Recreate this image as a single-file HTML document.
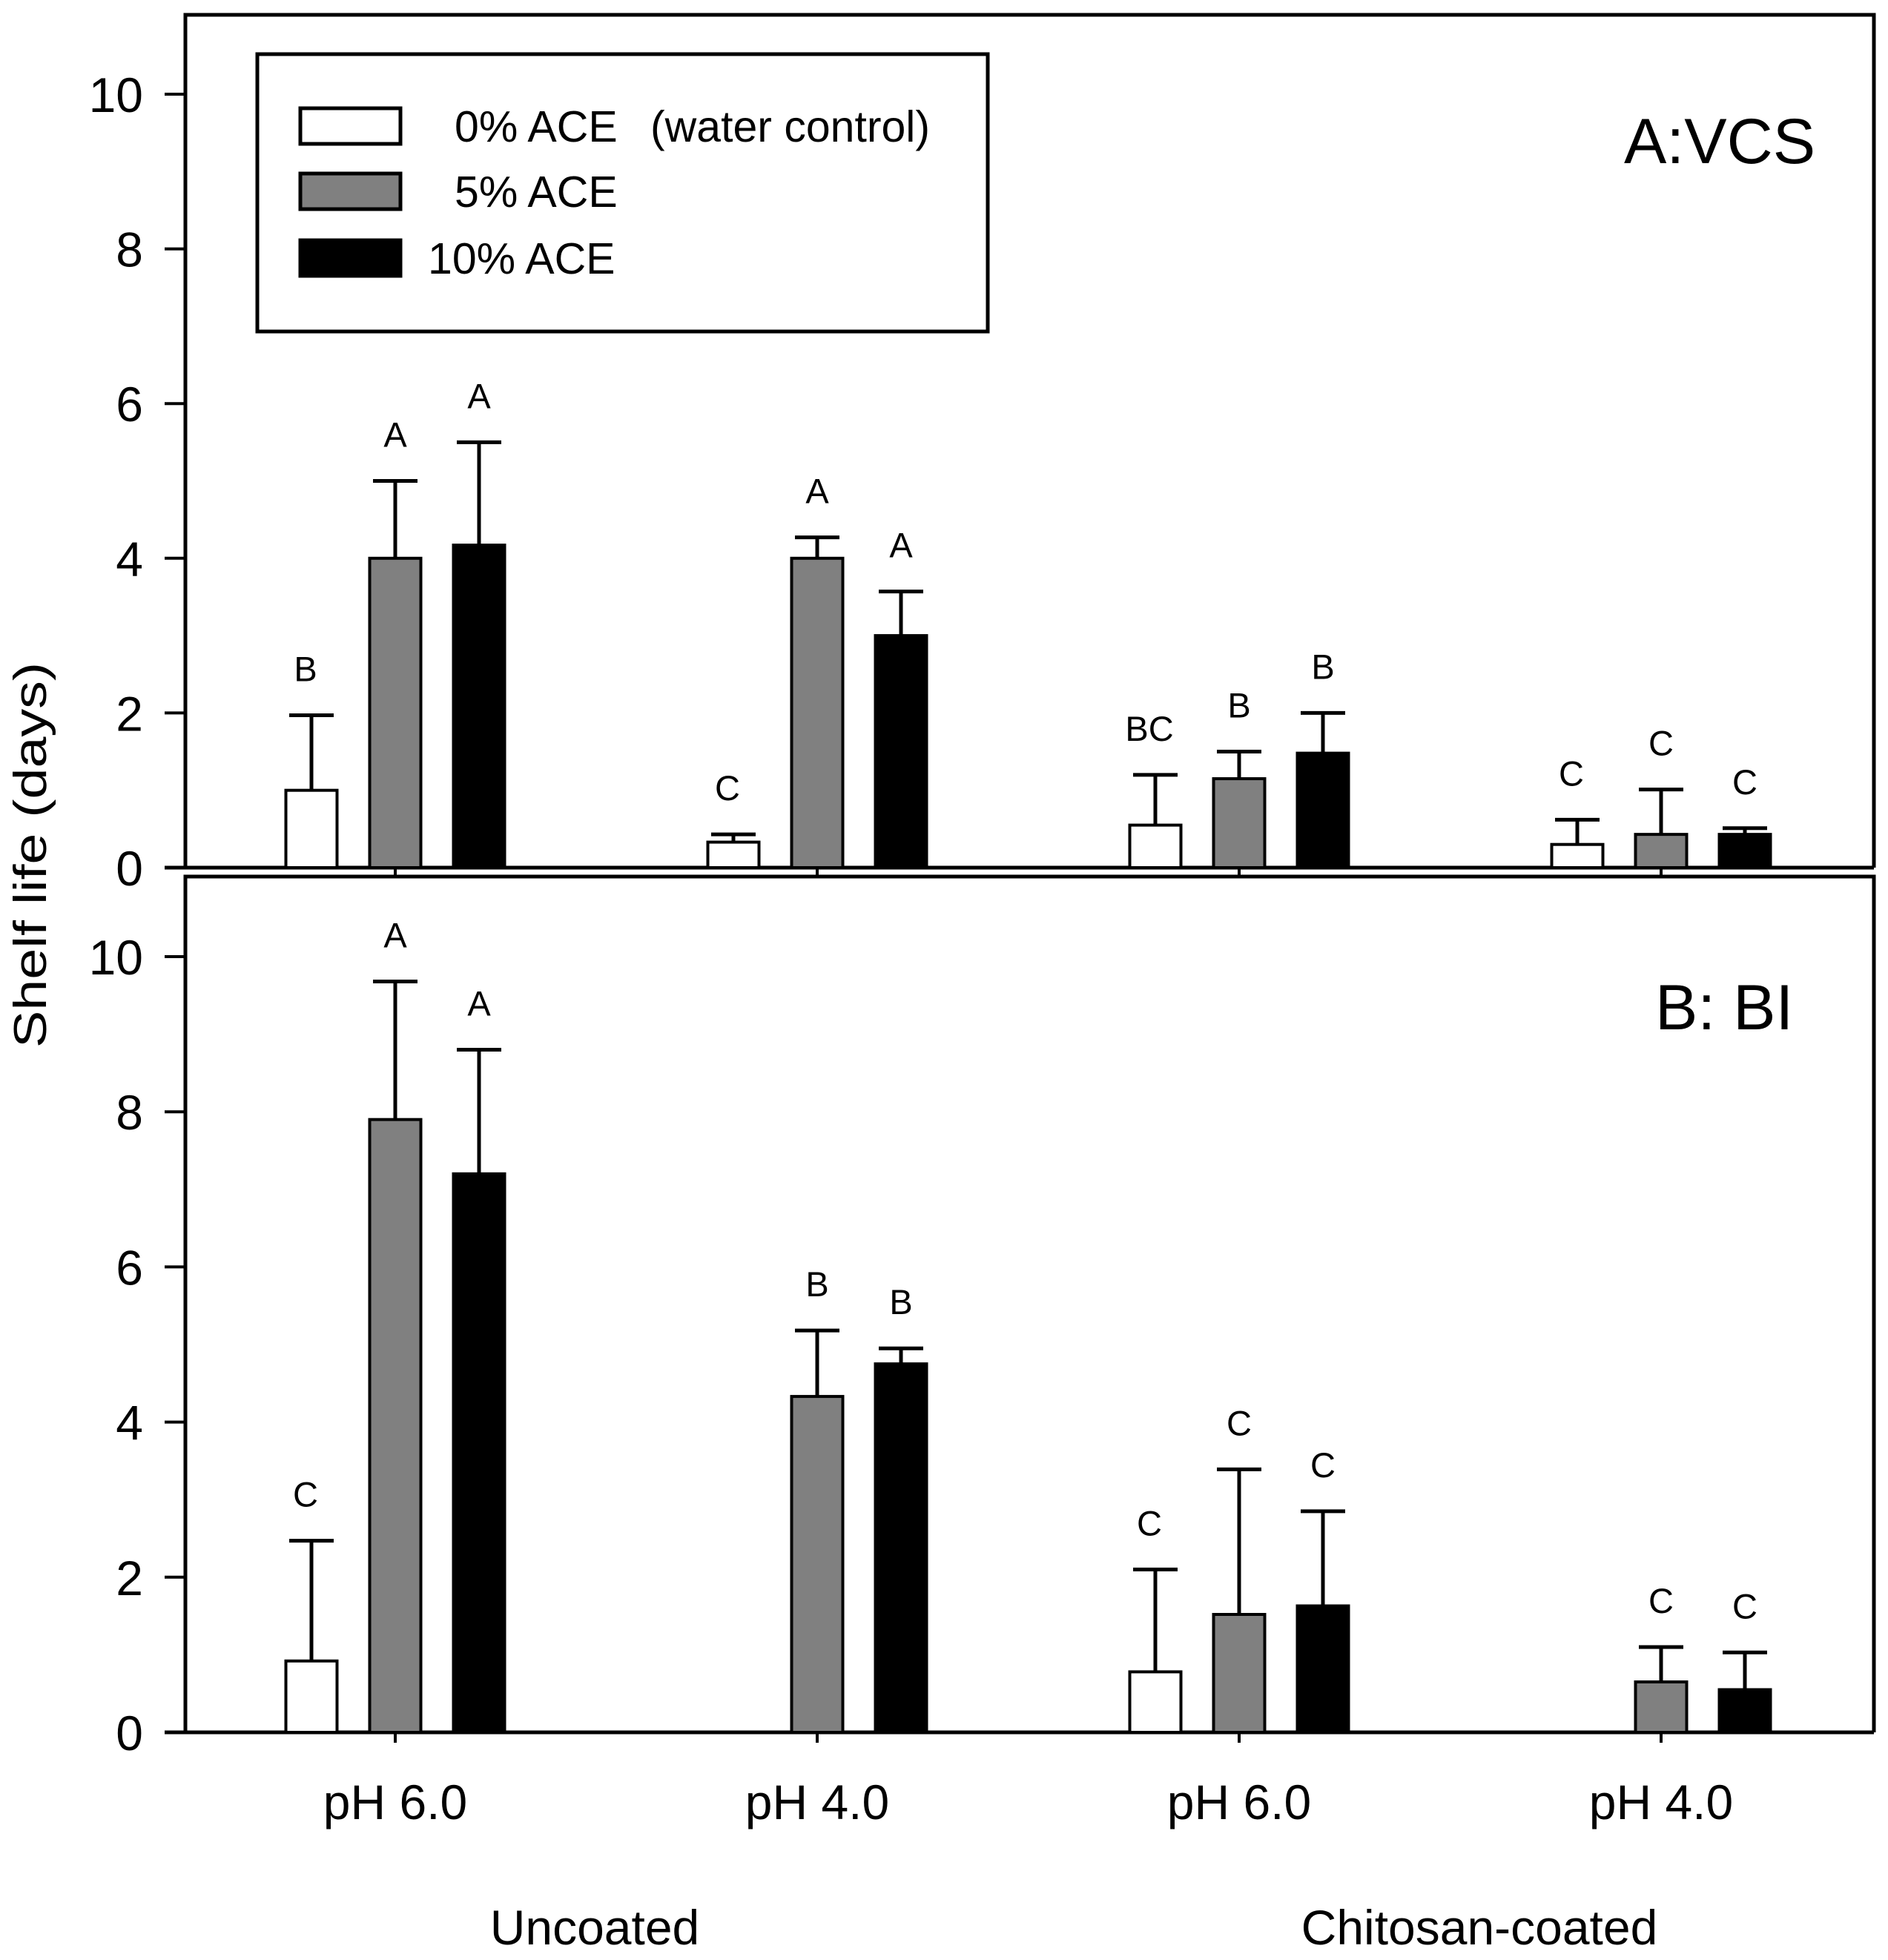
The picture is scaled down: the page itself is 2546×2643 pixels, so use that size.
<!DOCTYPE html>
<html><head><meta charset="utf-8">
<style>html,body{margin:0;padding:0;background:#fff}svg{display:block}text{font-family:"Liberation Sans",sans-serif;fill:#000}</style>
</head><body>
<svg id="chart" width="2546" height="2643" viewBox="0 0 2546 2643" xmlns="http://www.w3.org/2000/svg">
<g id="root"></g>
</svg>
<script>
const groups = ["pH 6.0","pH 4.0","pH 6.0","pH 4.0"];
const seriesNames = ["0% ACE","5% ACE","10% ACE"];
const fills = ["#ffffff","#808080","#000000"];
const yTicks = [0,2,4,6,8,10];
const vcsMeans = [[1.0,4.0,4.17],[0.33,4.0,3.0],[0.55,1.15,1.48],[0.3,0.43,0.43]];
const vcsErr = [[0.97,1.0,1.33],[0.1,0.27,0.57],[0.65,0.35,0.52],[0.32,0.58,0.08]];
const vcsLetters = [["B","A","A"],["C","A","A"],["BC","B","B"],["C","C","C"]];
const biMeans = [[0.92,7.9,7.2],[0,4.33,4.75],[0.78,1.52,1.63],[0,0.65,0.55]];
const biErr = [[1.55,1.78,1.6],[0,0.85,0.2],[1.32,1.87,1.22],[0,0.45,0.48]];
const biLetters = [["C","A","A"],["","B","B"],["C","C","C"],["","C","C"]];

const NS="http://www.w3.org/2000/svg";
const root=document.getElementById('root');
function el(tag,attrs,parent){const e=document.createElementNS(NS,tag);for(const k in attrs)e.setAttribute(k,attrs[k]);(parent||root).appendChild(e);return e;}
const xLeft=250,xRight=2527;
const groupX = i => 533 + i*569;
const barOff = j => (j-1)*113;
const barW=69;

function panel(name,top,y0,y10,means,errs,letters,label,lx,ly){
  const g=el('g',{});
  
  
  const y = v => y0 - (y0-y10)*v/10;
  const frame=el('path',{d:`M${xLeft} ${y0} V${top} H${xRight} V${y0}`,fill:'none',stroke:'#000','stroke-width':5},g);
  
  
  const ax=el('line',{x1:222,y1:y0,x2:xRight,y2:y0,stroke:'#000','stroke-width':5},g);
  
  
  yTicks.forEach(t=>{
    const tk=el('line',{x1:222,x2:xLeft,y1:y(t),y2:y(t),stroke:'#000','stroke-width':4},g);
    
    
    const tl=el('text',{x:193,y:y(t)+24,'text-anchor':'end','font-size':66},g);
    tl.textContent=t;
    
    
  });
  groups.forEach((gn,i)=>{
    const xt=el('line',{x1:groupX(i),x2:groupX(i),y1:y0,y2:y0+14,stroke:'#000','stroke-width':4},g);
    
    
    for(let j=0;j<3;j++){
      const m=means[i][j]; if(m<=0) continue;
      const cx=groupX(i)+barOff(j);
      const top2=y(m+errs[i][j]);
      const eb=el('path',{d:`M${cx} ${y(m)} V${top2} M${cx-30} ${top2} H${cx+30}`,stroke:'#000','stroke-width':5,fill:'none'},g);
      
      
      const r=el('rect',{x:cx-barW/2,y:y(m),width:barW,height:y0-y(m),fill:fills[j],stroke:'#000','stroke-width':4},g);
      
      
      if(letters[i][j]){
        const lt=el('text',{x:cx-(j===0?8:0),y:top2-46,'text-anchor':'middle','font-size':47},g);
        lt.textContent=letters[i][j];
        
        
      }
    }
  });
  const pl=el('text',{x:lx,y:ly,'font-size':86},g);
  pl.textContent=label;
  
  
}
panel('panel-a-vcs',20,1170,127,vcsMeans,vcsErr,vcsLetters,'A:VCS',2190,220);
panel('panel-b-bi',1182,2336,1290,biMeans,biErr,biLetters,'B: BI',2232,1388);

// legend
const lg=el('g',{});


const lb=el('rect',{x:347,y:73,width:985,height:374,fill:'#fff',stroke:'#000','stroke-width':5},lg);


const rowsY=[170,258,348];
const textX=[613,613,577];
seriesNames.forEach((n,j)=>{
  const sw=el('rect',{x:405,y:rowsY[j]-24,width:135,height:48,fill:fills[j],stroke:'#000','stroke-width':5},lg);
  
  
  const t=el('text',{x:textX[j],y:rowsY[j]+21,'font-size':59},lg);
  t.textContent=n;
  
  
});
const wc=el('text',{x:877,y:191,'font-size':59},lg);
wc.textContent='(water control)';



// x labels
groups.forEach((gn,i)=>{
  const t=el('text',{x:groupX(i),y:2453,'text-anchor':'middle','font-size':66});
  t.textContent=gn;
  
  
});
[["Uncoated",802],["Chitosan-coated",1995]].forEach(([s,x])=>{
  const t=el('text',{x:x,y:2622,'text-anchor':'middle','font-size':66});
  t.textContent=s;
  
  
});
const yt=el('text',{x:0,y:0,'text-anchor':'middle','font-size':62,textLength:520,lengthAdjust:'spacingAndGlyphs',transform:'translate(62,1153) rotate(-90)'});
yt.textContent='Shelf life (days)';


</script>
</body></html>
